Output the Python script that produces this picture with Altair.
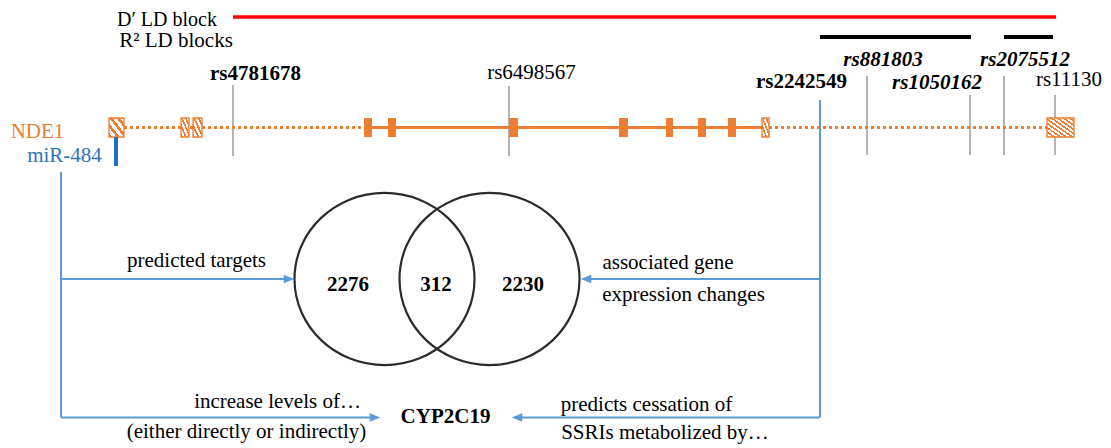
import altair as alt
import pandas as pd

# ---------------- canvas (diagram coordinates = page pixels) ----------------
W, H = 1095, 440
X0, Y0 = 8, 8
FONT = "Liberation Serif"

ORANGE = "#ED7D31"
BLUE_LINE = "#5B9BD5"
BLUE_TEXT = "#2E75B6"
BLUE_MIR = "#1F6FC5"
GREY = "#8C8C8C"

# ---------------- data ----------------
# LD blocks
dprime_label = "D\u2032 LD block"
dprime_label_pos = (167, 20)
dprime_block = [233, 1056]
r2_blocks_start = [820, 1004]
r2_blocks_end = [971, 1053]

# NDE1 gene model
utr_small_start = [109, 181, 193, 762]
utr_small_end = [124, 189, 202, 769]
utr_end_start = [1047]
utr_end_end = [1074]
exon_start = [364, 388, 509, 619, 666, 698, 728]
exon_end = [372, 396, 518, 628, 673, 706, 736]
dotted_start = [124, 769]
dotted_end = [364, 1047]
intron_solid = [372, 762]
gene_y = 127.5
box_top, box_bottom = 118, 137

# SNPs
snp_names = ["rs4781678", "rs6498567", "rs881803", "rs1050162", "rs2075512"]
snp_style = ["bold", "normal", "bolditalic", "bolditalic", "bolditalic"]
snp_label_x = [255.5, 531.5, 883, 937, 1025]
snp_label_y = [74, 73, 60, 83, 60]
last_snp = "rs11130"
last_snp_label = (1102, 80)   # right-aligned
snp_pos = [233, 509, 867, 970, 1004, 1055]
snp_top = [85, 86, 76, 95, 76, 95]
snp_bottom = [156, 156, 155, 155, 155, 155]

# the associated SNP (drawn as blue connector)
assoc_snp = "rs2242549"
assoc_pos = 820
assoc_top = 100
assoc_label = (801.5, 82)

# miR-484 site
mir_pos = 116
mir_top, mir_bottom = 137, 166

# Venn diagram
venn_cx = [384.5, 489.5]
venn_cy = 279
venn_counts = ["2276", "312", "2230"]
venn_count_x = [348, 436, 523]
venn_count_y = 285

# connectors
left_x = 61
left_top = 172
conn_y_venn = 279
conn_y_cyp = 417.5
arrow_right_tips = [294, 380]
arrow_left_tips = [581, 512]

# annotations
plain_texts = ["R\u00b2 LD blocks", "predicted targets",
               "associated gene", "expression changes", "increase levels of\u2026",
               "(either directly or indirectly)", "predicts cessation of",
               "SSRIs metabolized by\u2026"]
plain_x = [176, 196.5, 668, 683.5, 277.5, 246.5, 646.5, 665]
plain_y = [41, 261, 263, 295, 402, 432, 405, 433]

# ---------------- helpers ----------------
xs = alt.Scale(domain=[X0, X0 + W])
ys = alt.Scale(domain=[Y0, Y0 + H], reverse=True)


def X(f):
    return alt.X(f, type="quantitative", scale=xs, axis=None)


def Y(f):
    return alt.Y(f, type="quantitative", scale=ys, axis=None)


def hrule(df, **kw):
    return alt.Chart(df).mark_rule(**kw).encode(x=X("x1"), x2=alt.X2("x2"), y=Y("y"))


def vrule(df, **kw):
    return alt.Chart(df).mark_rule(**kw).encode(x=X("x"), y=Y("y1"), y2=alt.Y2("y2"))


def texts(df, **kw):
    base = dict(font=FONT, fontSize=21, baseline="middle", align="center", color="black")
    base.update(kw)
    return alt.Chart(df).mark_text(**base).encode(x=X("x"), y=Y("y"), text="t:N")


def stripes(n, frac=0.45, c1=ORANGE, c2="white"):
    stops = []
    for i in range(n):
        a, b, c = i / n, (i + frac) / n, (i + 1) / n
        stops += [alt.GradientStop(color=c1, offset=a), alt.GradientStop(color=c1, offset=b),
                  alt.GradientStop(color=c2, offset=b), alt.GradientStop(color=c2, offset=c)]
    return alt.LinearGradient(gradient="linear", stops=stops, x1=0, y1=1, x2=1, y2=0)


layers = []

# LD blocks
layers.append(hrule(pd.DataFrame({"x1": [dprime_block[0]], "x2": [dprime_block[1]], "y": [17]}),
                    color="#FF0000", strokeWidth=3.5))
layers.append(hrule(pd.DataFrame({"x1": r2_blocks_start, "x2": r2_blocks_end, "y": [37, 37]}),
                    color="black", strokeWidth=4))

# SNP lines
layers.append(vrule(pd.DataFrame({"x": snp_pos, "y1": snp_top, "y2": snp_bottom}),
                    color=GREY, strokeWidth=1.3))

# gene track
layers.append(hrule(pd.DataFrame({"x1": dotted_start, "x2": dotted_end, "y": [gene_y] * 2}),
                    color=ORANGE, strokeWidth=3, strokeDash=[3, 3]))
layers.append(hrule(pd.DataFrame({"x1": [intron_solid[0]], "x2": [intron_solid[1]], "y": [gene_y]}),
                    color=ORANGE, strokeWidth=3))
rect_enc = dict(x=X("x1"), x2=alt.X2("x2"), y=Y("y1"), y2=alt.Y2("y2"))
layers.append(alt.Chart(pd.DataFrame({"x1": exon_start, "x2": exon_end,
                                      "y1": [box_top] * len(exon_start),
                                      "y2": [box_bottom] * len(exon_start)}))
              .mark_rect(color=ORANGE).encode(**rect_enc))
layers.append(alt.Chart(pd.DataFrame({"x1": utr_small_start, "x2": utr_small_end,
                                      "y1": [box_top] * len(utr_small_start),
                                      "y2": [box_bottom] * len(utr_small_start)}))
              .mark_rect(fill=stripes(4), stroke=ORANGE, strokeWidth=1.3).encode(**rect_enc))
layers.append(alt.Chart(pd.DataFrame({"x1": utr_end_start, "x2": utr_end_end,
                                      "y1": [box_top], "y2": [box_bottom]}))
              .mark_rect(fill=stripes(9), stroke=ORANGE, strokeWidth=1.3).encode(**rect_enc))

# miR-484 binding site
layers.append(vrule(pd.DataFrame({"x": [mir_pos], "y1": [mir_top], "y2": [mir_bottom]}),
                    color=BLUE_MIR, strokeWidth=4))

# blue connectors
layers.append(vrule(pd.DataFrame({"x": [left_x, assoc_pos], "y1": [left_top, assoc_top],
                                  "y2": [conn_y_cyp, conn_y_cyp]}),
                    color=BLUE_LINE, strokeWidth=2))
layers.append(hrule(pd.DataFrame({"x1": [left_x, left_x, arrow_left_tips[0] + 6, arrow_left_tips[1] + 6],
                                  "x2": [arrow_right_tips[0] - 6, arrow_right_tips[1] - 6, assoc_pos, assoc_pos],
                                  "y": [conn_y_venn, conn_y_cyp, conn_y_venn, conn_y_cyp]}),
                    color=BLUE_LINE, strokeWidth=2))
layers.append(alt.Chart(pd.DataFrame({"x": [t - 5 for t in arrow_right_tips],
                                      "y": [conn_y_venn, conn_y_cyp]}))
              .mark_point(shape="M-1,-0.8L1,0L-1,0.8Z", size=110, filled=True, opacity=1,
                          color=BLUE_LINE).encode(x=X("x"), y=Y("y")))
layers.append(alt.Chart(pd.DataFrame({"x": [t + 5 for t in arrow_left_tips],
                                      "y": [conn_y_venn, conn_y_cyp]}))
              .mark_point(shape="M1,-0.8L-1,0L1,0.8Z", size=110, filled=True, opacity=1,
                          color=BLUE_LINE).encode(x=X("x"), y=Y("y")))

# Venn circles
layers.append(alt.Chart(pd.DataFrame({"x": venn_cx, "y": [venn_cy] * 2}))
              .mark_point(shape="M-1,0A1,0.956,0,1,1,1,0A1,0.956,0,1,1,-1,0Z", size=32400,
                          filled=False, stroke="#2B2B2B", strokeWidth=2.2, opacity=1)
              .encode(x=X("x"), y=Y("y")))

# texts
layers.append(texts(pd.DataFrame({"t": [dprime_label], "x": [dprime_label_pos[0]],
                                  "y": [dprime_label_pos[1]]}), fontSize=20))
layers.append(texts(pd.DataFrame({"t": plain_texts, "x": plain_x, "y": plain_y})))
styled = pd.DataFrame({"t": snp_names, "x": snp_label_x, "y": snp_label_y, "s": snp_style})
layers.append(texts(styled[styled.s == "normal"]))
layers.append(texts(pd.DataFrame({"t": [last_snp], "x": [last_snp_label[0]],
                                  "y": [last_snp_label[1]]}), align="right"))
layers.append(texts(pd.concat([styled[styled.s == "bold"],
                               pd.DataFrame({"t": [assoc_snp], "x": [assoc_label[0]],
                                             "y": [assoc_label[1]], "s": ["bold"]})]),
                    fontWeight="bold"))
layers.append(texts(styled[styled.s == "bolditalic"], fontWeight="bold", fontStyle="italic"))
layers.append(texts(pd.DataFrame({"t": venn_counts, "x": venn_count_x, "y": [venn_count_y] * 3}),
                    fontWeight="bold"))
layers.append(texts(pd.DataFrame({"t": ["CYP2C19"], "x": [445.5], "y": [417]}),
                    fontWeight="bold"))
layers.append(texts(pd.DataFrame({"t": ["NDE1"], "x": [37.5], "y": [132]}), color=ORANGE))
layers.append(texts(pd.DataFrame({"t": ["miR-484"], "x": [64.5], "y": [156]}), color=BLUE_TEXT))

chart = (alt.layer(*layers)
         .properties(width=W, height=H, padding=0, background="white",
                     autosize=alt.AutoSizeParams(type="none"))
         .configure_view(stroke=None))

chart.save("out.html", embed_options={"renderer": "svg", "actions": False})
